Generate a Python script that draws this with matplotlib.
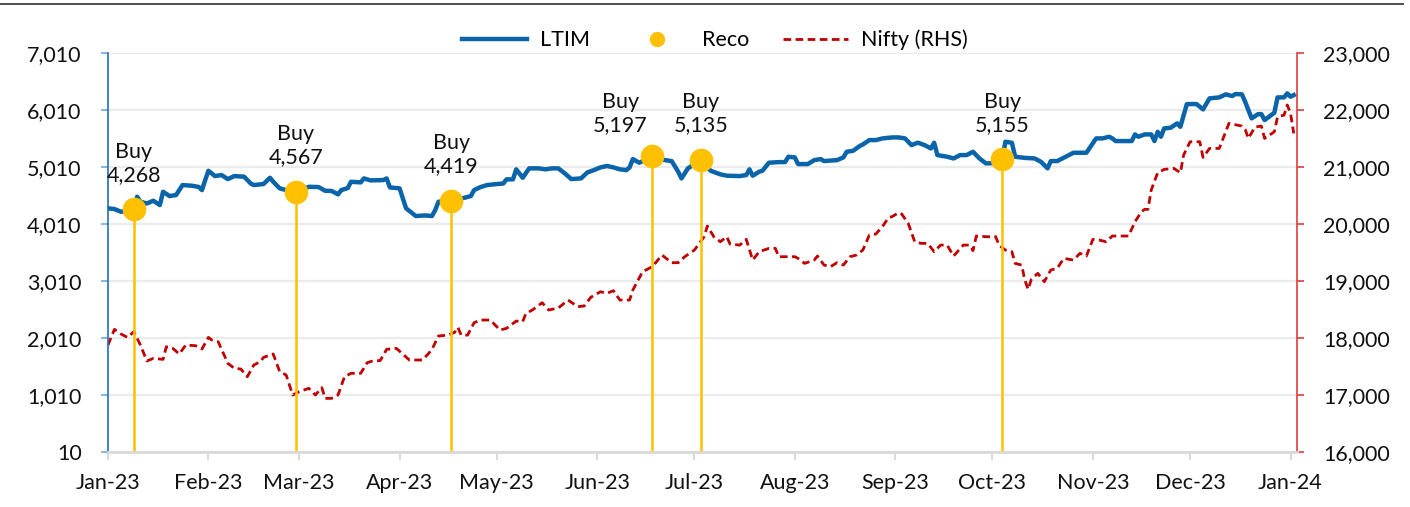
import pandas as pd
import matplotlib
matplotlib.use("Agg")
import matplotlib.pyplot as plt
import matplotlib.dates as mdates
from matplotlib.lines import Line2D
from matplotlib.ticker import FixedLocator, FuncFormatter

plt.rcParams['font.family'] = ['Lato', 'DejaVu Sans']
plt.rcParams['lines.scale_dashes'] = False

# LTIM price (left axis) - dates and values
ltim_dates = ['2023-01-01', '2023-01-03', '2023-01-05', '2023-01-09', '2023-01-10', '2023-01-11', '2023-01-13',
              '2023-01-15', '2023-01-17', '2023-01-18', '2023-01-20', '2023-01-22', '2023-01-24', '2023-01-27',
              '2023-01-29', '2023-01-30', '2023-01-31', '2023-02-01', '2023-02-03', '2023-02-05', '2023-02-07',
              '2023-02-09', '2023-02-12', '2023-02-14', '2023-02-15', '2023-02-18', '2023-02-20', '2023-02-21',
              '2023-02-23', '2023-02-25', '2023-02-28', '2023-03-04', '2023-03-07', '2023-03-09', '2023-03-11',
              '2023-03-13', '2023-03-14', '2023-03-16', '2023-03-17', '2023-03-20', '2023-03-21', '2023-03-23',
              '2023-03-27', '2023-03-28', '2023-03-29', '2023-04-01', '2023-04-02', '2023-04-03', '2023-04-06',
              '2023-04-09', '2023-04-11', '2023-04-12', '2023-04-13', '2023-04-17', '2023-04-21', '2023-04-23',
              '2023-04-24', '2023-04-26', '2023-04-28', '2023-05-01', '2023-05-03', '2023-05-04', '2023-05-06',
              '2023-05-07', '2023-05-09', '2023-05-11', '2023-05-14', '2023-05-16', '2023-05-18', '2023-05-20',
              '2023-05-22', '2023-05-24', '2023-05-27', '2023-05-29', '2023-05-31', '2023-06-02', '2023-06-04',
              '2023-06-06', '2023-06-08', '2023-06-10', '2023-06-11', '2023-06-12', '2023-06-14', '2023-06-18',
              '2023-06-21', '2023-06-24', '2023-06-26', '2023-06-27', '2023-06-29', '2023-07-03', '2023-07-06',
              '2023-07-09', '2023-07-11', '2023-07-15', '2023-07-17', '2023-07-18', '2023-07-19', '2023-07-21',
              '2023-07-22', '2023-07-24', '2023-07-27', '2023-07-29', '2023-07-30', '2023-08-01', '2023-08-02',
              '2023-08-05', '2023-08-07', '2023-08-09', '2023-08-10', '2023-08-14', '2023-08-16', '2023-08-17',
              '2023-08-19', '2023-08-21', '2023-08-22', '2023-08-24', '2023-08-26', '2023-08-28', '2023-08-31',
              '2023-09-02', '2023-09-04', '2023-09-06', '2023-09-08', '2023-09-10', '2023-09-12', '2023-09-13',
              '2023-09-14', '2023-09-17', '2023-09-19', '2023-09-21', '2023-09-23', '2023-09-25', '2023-09-27',
              '2023-09-29', '2023-10-03', '2023-10-04', '2023-10-05', '2023-10-07', '2023-10-08', '2023-10-11',
              '2023-10-14', '2023-10-16', '2023-10-18', '2023-10-19', '2023-10-21', '2023-10-24', '2023-10-26',
              '2023-10-30', '2023-11-02', '2023-11-04', '2023-11-06', '2023-11-07', '2023-11-08', '2023-11-13',
              '2023-11-14', '2023-11-15', '2023-11-17', '2023-11-19', '2023-11-20', '2023-11-21', '2023-11-22',
              '2023-11-23', '2023-11-25', '2023-11-27', '2023-11-28', '2023-11-30', '2023-12-03', '2023-12-05',
              '2023-12-07', '2023-12-10', '2023-12-12', '2023-12-14', '2023-12-15', '2023-12-17', '2023-12-18',
              '2023-12-20', '2023-12-22', '2023-12-23', '2023-12-24', '2023-12-26', '2023-12-27', '2023-12-28',
              '2023-12-30', '2023-12-31', '2024-01-01', '2024-01-02']
ltim_values = [4285, 4272, 4225, 4250, 4489, 4400, 4370, 4418, 4342, 4576, 4500, 4518, 4693, 4681, 4660, 4605,
               4781, 4944, 4851, 4869, 4798, 4851, 4840, 4723, 4693, 4711, 4821, 4751, 4635, 4605, 4567, 4663,
               4658, 4593, 4590, 4530, 4605, 4640, 4751, 4740, 4810, 4775, 4781, 4810, 4652, 4635, 4460, 4285,
               4150, 4160, 4150, 4254, 4400, 4419, 4470, 4500, 4605, 4658, 4693, 4711, 4720, 4793, 4793, 4969,
               4821, 4986, 4986, 4969, 4986, 4986, 4898, 4798, 4810, 4916, 4956, 5003, 5027, 5003, 4969, 4956,
               5003, 5149, 5085, 5197, 5140, 5113, 4927, 4810, 4986, 5135, 4944, 4881, 4857, 4851, 4869, 4969,
               4857, 4927, 4944, 5085, 5096, 5096, 5190, 5178, 5061, 5061, 5131, 5149, 5114, 5131, 5178, 5277,
               5295, 5377, 5406, 5482, 5482, 5511, 5529, 5529, 5512, 5395, 5436, 5395, 5336, 5435, 5219, 5190,
               5160, 5219, 5219, 5277, 5160, 5073, 5080, 5155, 5453, 5435, 5190, 5170, 5160, 5100, 4986, 5114,
               5114, 5202, 5260, 5260, 5512, 5512, 5541, 5512, 5465, 5465, 5582, 5541, 5582, 5582, 5465, 5628,
               5541, 5687, 5699, 5775, 5716, 6114, 6114, 6021, 6214, 6231, 6284, 6255, 6290, 6284, 6154, 5863,
               5938, 5938, 5833, 5920, 5962, 6231, 6231, 6302, 6243, 6272]

# Nifty (right axis)
nifty_dates = ['2023-01-01', '2023-01-03', '2023-01-05', '2023-01-07', '2023-01-09', '2023-01-11', '2023-01-13',
               '2023-01-15', '2023-01-18', '2023-01-19', '2023-01-21', '2023-01-23', '2023-01-25', '2023-01-28',
               '2023-01-30', '2023-02-01', '2023-02-02', '2023-02-04', '2023-02-07', '2023-02-09', '2023-02-11',
               '2023-02-13', '2023-02-15', '2023-02-17', '2023-02-18', '2023-02-21', '2023-02-23', '2023-02-25',
               '2023-02-27', '2023-03-01', '2023-03-04', '2023-03-06', '2023-03-08', '2023-03-09', '2023-03-11',
               '2023-03-13', '2023-03-15', '2023-03-17', '2023-03-20', '2023-03-22', '2023-03-24', '2023-03-26',
               '2023-03-28', '2023-03-31', '2023-04-02', '2023-04-04', '2023-04-08', '2023-04-10', '2023-04-11',
               '2023-04-13', '2023-04-16', '2023-04-18', '2023-04-19', '2023-04-20', '2023-04-22', '2023-04-24',
               '2023-04-26', '2023-04-29', '2023-05-02', '2023-05-04', '2023-05-07', '2023-05-09', '2023-05-10',
               '2023-05-12', '2023-05-15', '2023-05-17', '2023-05-20', '2023-05-23', '2023-05-26', '2023-05-28',
               '2023-05-30', '2023-06-02', '2023-06-04', '2023-06-06', '2023-06-08', '2023-06-11', '2023-06-12',
               '2023-06-15', '2023-06-18', '2023-06-20', '2023-06-21', '2023-06-24', '2023-06-26', '2023-06-28',
               '2023-07-01', '2023-07-04', '2023-07-05', '2023-07-07', '2023-07-09', '2023-07-11', '2023-07-12',
               '2023-07-15', '2023-07-17', '2023-07-19', '2023-07-21', '2023-07-24', '2023-07-26', '2023-07-27',
               '2023-08-01', '2023-08-02', '2023-08-04', '2023-08-07', '2023-08-08', '2023-08-10', '2023-08-12',
               '2023-08-14', '2023-08-16', '2023-08-18', '2023-08-20', '2023-08-22', '2023-08-24', '2023-08-26',
               '2023-08-28', '2023-08-30', '2023-08-31', '2023-09-02', '2023-09-03', '2023-09-05', '2023-09-07',
               '2023-09-09', '2023-09-11', '2023-09-13', '2023-09-15', '2023-09-17', '2023-09-19', '2023-09-22',
               '2023-09-24', '2023-09-25', '2023-09-26', '2023-09-29', '2023-10-02', '2023-10-03', '2023-10-05',
               '2023-10-07', '2023-10-08', '2023-10-10', '2023-10-11', '2023-10-12', '2023-10-13', '2023-10-15',
               '2023-10-17', '2023-10-19', '2023-10-21', '2023-10-23', '2023-10-26', '2023-10-28', '2023-10-30',
               '2023-11-01', '2023-11-03', '2023-11-05', '2023-11-07', '2023-11-09', '2023-11-12', '2023-11-14',
               '2023-11-16', '2023-11-17', '2023-11-18', '2023-11-19', '2023-11-21', '2023-11-23', '2023-11-26',
               '2023-11-28', '2023-11-29', '2023-12-01', '2023-12-04', '2023-12-05', '2023-12-07', '2023-12-10',
               '2023-12-13', '2023-12-17', '2023-12-18', '2023-12-19', '2023-12-21', '2023-12-23', '2023-12-24',
               '2023-12-27', '2023-12-28', '2023-12-30', '2023-12-31', '2024-01-01', '2024-01-02']
nifty_values = [17877, 18152, 18070, 18011, 18110, 17877, 17596, 17643, 17625, 17847, 17818, 17719, 17877, 17865,
                17807, 18011, 17965, 17935, 17555, 17468, 17456, 17321, 17526, 17584, 17660, 17719, 17409, 17350,
                17000, 17058, 17117, 17000, 17129, 16941, 16941, 17000, 17321, 17380, 17380, 17567, 17602, 17602,
                17801, 17818, 17719, 17614, 17614, 17731, 17801, 18035, 18052, 18099, 18187, 18052, 18052, 18268,
                18315, 18315, 18140, 18169, 18298, 18286, 18432, 18491, 18619, 18491, 18526, 18666, 18549, 18561,
                18713, 18812, 18783, 18830, 18666, 18666, 18842, 19163, 19251, 19385, 19455, 19321, 19321, 19426,
                19543, 19777, 19964, 19777, 19689, 19777, 19648, 19630, 19731, 19368, 19514, 19572, 19572, 19426,
                19426, 19397, 19309, 19368, 19438, 19280, 19251, 19321, 19280, 19426, 19455, 19543, 19806, 19824,
                19952, 20117, 20128, 20198, 20175, 20011, 19689, 19660, 19660, 19514, 19630, 19630, 19438, 19630,
                19630, 19532, 19789, 19777, 19777, 19630, 19543, 19514, 19309, 19280, 19017, 18853, 19029, 19134,
                18987, 19193, 19222, 19397, 19368, 19485, 19438, 19731, 19719, 19689, 19789, 19789, 19789, 20040,
                20216, 20257, 20257, 20596, 20899, 20958, 20976, 20899, 21209, 21443, 21443, 21168, 21326, 21326,
                21765, 21718, 21660, 21502, 21700, 21718, 21502, 21618, 21881, 21910, 22087, 21940, 21590]

# Buy recommendations
reco_dates = ['2023-01-09', '2023-02-28', '2023-04-17', '2023-06-18', '2023-07-03', '2023-10-04']
reco_values = [4268, 4567, 4419, 5197, 5135, 5155]

left_ticks = [10, 1010, 2010, 3010, 4010, 5010, 6010, 7010]
right_ticks = [16000, 17000, 18000, 19000, 20000, 21000, 22000, 23000]

blue = '#0A64AA'
gold = '#FFC000'
red = '#C00000'
fs = 15.5

ltim_x = pd.to_datetime(ltim_dates)
nifty_x = pd.to_datetime(nifty_dates)
reco_x = pd.to_datetime(reco_dates)

fig = plt.figure(figsize=(14.1, 5.07), dpi=100)
ax = fig.add_axes([108 / 1410, 1 - 452 / 507, (1297 - 108) / 1410, (452 - 53) / 507])
ax2 = ax.twinx()
ax.set_zorder(ax2.get_zorder() + 1)
ax.patch.set_visible(False)

# Nifty on right axis (drawn underneath)
ax2.plot(nifty_x, nifty_values, color=red, lw=2.0, dashes=(5.5, 3.2), label='Nifty (RHS)')
ax2.set_ylim(16000, 23000)
ax2.yaxis.set_major_locator(FixedLocator(right_ticks))
ax2.yaxis.set_major_formatter(FuncFormatter(lambda v, p: f'{v:,.0f}'))
ax2.grid(axis='y', color='#ebebeb', lw=1.6)
ax2.set_axisbelow(True)

# LTIM + reco on left axis
ax.plot(ltim_x, ltim_values, color=blue, lw=3.2, solid_joinstyle='round', label='LTIM', zorder=3)
ax.vlines(reco_x, 10, reco_values, color=gold, lw=1.8, zorder=2)
ax.plot(reco_x, reco_values, 'o', color=gold, ms=16, label='Reco', zorder=4)

# label placement (points); the June label sits left of its dot, as in the original
label_dx = [0, 0, 0, -23, 0, 0]
label_dy = [17.5, 18, 17.5, 15, 18, 17]
for d, v, dx, dy in zip(reco_x, reco_values, label_dx, label_dy):
    ax.annotate(f'Buy\n{v:,}', (d, v), xytext=(dx, dy), textcoords='offset points',
                ha='center', va='bottom', fontsize=fs, linespacing=1.2, color='#111111')

ax.set_ylim(10, 7010)
ax.yaxis.set_major_locator(FixedLocator(left_ticks))
ax.yaxis.set_major_formatter(FuncFormatter(lambda v, p: f'{v:,.0f}'))
ax.set_xlim(pd.Timestamp('2023-01-01'), pd.Timestamp('2024-01-03'))
ax.xaxis.set_major_locator(mdates.MonthLocator())
ax.xaxis.set_major_formatter(mdates.DateFormatter('%b-%y'))

for s in ['top', 'right']:
    ax.spines[s].set_visible(False)
for s in ['top', 'left', 'bottom']:
    ax2.spines[s].set_visible(False)
ax.spines['left'].set_color('#1f6fb8')
ax.spines['left'].set_linewidth(1.2)
ax.spines['bottom'].set_color('#d9d9d9')
ax.spines['bottom'].set_linewidth(2)
ax2.spines['right'].set_color('#e03c3c')
ax2.spines['right'].set_linewidth(1.2)

ax.tick_params(axis='y', colors='#6fa8dc', labelcolor='#111111', length=5, width=1.2,
               labelsize=fs, pad=14)
ax.tick_params(axis='x', colors='#d9d9d9', labelcolor='#111111', length=6, width=1.5,
               labelsize=fs, pad=9)
ax2.tick_params(axis='y', colors='#e03c3c', labelcolor='#111111', length=5, width=1.2,
                labelsize=fs, pad=14)

handles = [Line2D([], [], color=blue, lw=3.2),
           Line2D([], [], ls='none', marker='o', color=gold, ms=10),
           Line2D([], [], color=red, lw=2.0, dashes=(5.5, 3.2))]
fig.legend(handles, ['LTIM', 'Reco', 'Nifty (RHS)'], loc='center', ncol=3,
           bbox_to_anchor=(715 / 1410, 1 - 40 / 507), frameon=False, fontsize=fs,
           handlelength=3.0, handletextpad=0.6, columnspacing=1.6)

fig.add_artist(Line2D([0, 0.995], [1 - 3.5 / 507, 1 - 3.5 / 507], color='#404040', lw=1.3,
                      transform=fig.transFigure))

fig.savefig('out.png', dpi=100)
